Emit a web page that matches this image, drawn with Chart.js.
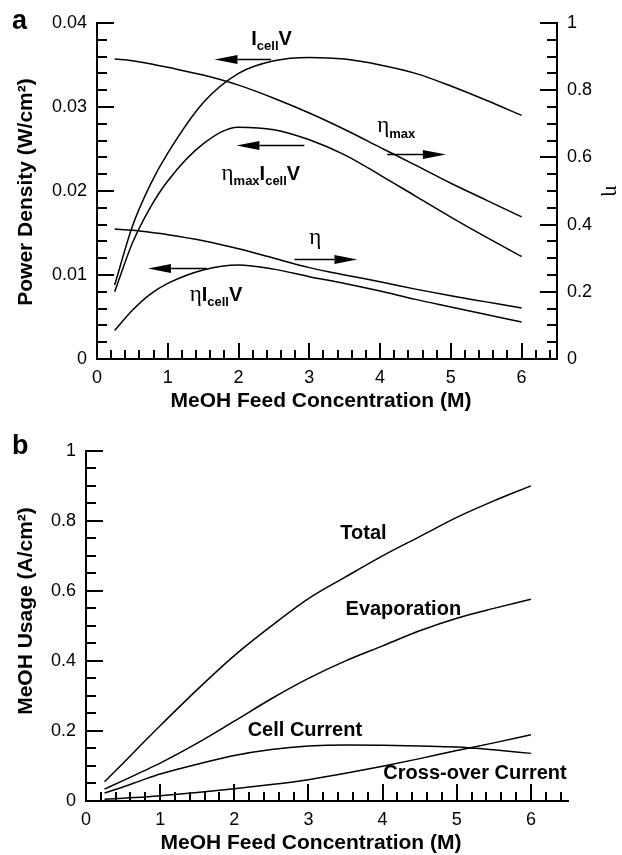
<!DOCTYPE html>
<html lang="en">
<head>
<meta charset="UTF-8">
<title>MeOH Feed Concentration</title>
<script src="https://cdn.jsdelivr.net/npm/chart.js@4.4.0/dist/chart.umd.min.js"></script>
<style>
  html, body { margin: 0; padding: 0; background: #fff; }
  #wrap { position: relative; width: 622px; height: 855px; }
  canvas { position: absolute; left: 0; }
  #chartA { top: 0; }
  #chartB { top: 430px; }
</style>
</head>
<body>
<div id="wrap">
  <canvas id="chartA" width="622" height="430"></canvas>
  <canvas id="chartB" width="622" height="425"></canvas>
</div>
<script>
// MeOH feed concentration (M)
const conc = [0.25, 0.5, 0.75, 1, 1.5, 2, 2.5, 3, 3.5, 4, 4.5, 5, 5.5, 6];

// panel a, power density (W/cm2), left axis
const cellPower   = [0.0088, 0.0158, 0.0207, 0.0245, 0.0305, 0.0340, 0.0355, 0.0359, 0.0357, 0.0350, 0.0340, 0.0325, 0.0308, 0.0290];
const etaMaxPower = [0.0080, 0.0138, 0.0180, 0.0212, 0.0256, 0.0276, 0.0273, 0.0261, 0.0243, 0.0219, 0.0194, 0.0169, 0.0145, 0.0122];
const etaPower    = [0.0034, 0.0058, 0.0077, 0.0090, 0.0106, 0.0112, 0.0107, 0.0098, 0.0090, 0.0081, 0.0071, 0.0062, 0.0053, 0.0044];
// panel a, efficiency, right axis
const etaMax = [0.893, 0.888, 0.879, 0.868, 0.845, 0.815, 0.776, 0.732, 0.683, 0.630, 0.577, 0.523, 0.473, 0.423];
const eta    = [0.387, 0.383, 0.377, 0.370, 0.352, 0.328, 0.300, 0.272, 0.250, 0.230, 0.208, 0.188, 0.170, 0.152];

// panel b, MeOH usage (A/cm2)
const usageTotal = [0.055, 0.108, 0.162, 0.215, 0.318, 0.415, 0.500, 0.578, 0.640, 0.700, 0.755, 0.810, 0.857, 0.900];
const usageEvap  = [0.034, 0.058, 0.083, 0.108, 0.165, 0.228, 0.292, 0.350, 0.400, 0.443, 0.486, 0.522, 0.550, 0.576];
const usageCell  = [0.023, 0.040, 0.059, 0.077, 0.105, 0.130, 0.147, 0.157, 0.160, 0.159, 0.157, 0.154, 0.146, 0.136];
const usageCross = [0.005, 0.008, 0.011, 0.015, 0.024, 0.035, 0.047, 0.061, 0.079, 0.099, 0.121, 0.144, 0.166, 0.189];

const SANS = '"Liberation Sans", Arial, sans-serif';
const SERIF = '"Liberation Serif", "DejaVu Serif", serif';

const pts = arr => conc.map((x, i) => ({x, y: arr[i]}));
const line = (arr, axis) => ({
  data: pts(arr), yAxisID: axis || 'y',
  borderColor: '#000', borderWidth: 1.5, pointRadius: 0, fill: false,
  cubicInterpolationMode: 'monotone'
});

// inward tick marks drawn off the chart's own scales
const tickMarks = {
  id: 'tickMarks',
  afterDraw(chart, args, opts) {
    const ctx = chart.ctx;
    ctx.save();
    ctx.strokeStyle = '#000';
    ctx.lineWidth = 2;
    (opts.axes || []).forEach(a => {
      const s = chart.scales[a.id];
      for (let i = 0; i <= a.count; i++) {
        const len = i % a.every === 0 ? a.major : a.minor;
        const p = Math.round(s.getPixelForValue(i * a.step));
        ctx.beginPath();
        if (s.isHorizontal()) { ctx.moveTo(p, s.top); ctx.lineTo(p, s.top - len); }
        else if (s.position === 'left') { ctx.moveTo(s.right, p); ctx.lineTo(s.right + len, p); }
        else { ctx.moveTo(s.left, p); ctx.lineTo(s.left - len, p); }
        ctx.stroke();
      }
    });
    ctx.restore();
  }
};

// curve labels, arrows and axis titles
const notes = {
  id: 'notes',
  afterDraw(chart, args, opts) {
    const ctx = chart.ctx, xs = chart.scales.x;
    ctx.save();
    ctx.fillStyle = '#000';
    ctx.strokeStyle = '#000';
    ctx.textBaseline = 'alphabetic';
    (opts.texts || []).forEach(t => {
      const ys = chart.scales[t.axis || 'y'];
      let px = xs.getPixelForValue(t.x);
      const py = ys.getPixelForValue(t.y);
      t.parts.forEach(p => {
        ctx.font = p.font;
        ctx.fillText(p.text, px, py + (p.dy || 0));
        px += ctx.measureText(p.text).width;
      });
    });
    (opts.arrows || []).forEach(a => {
      const ys = chart.scales[a.axis || 'y'];
      const x1 = xs.getPixelForValue(a.from), x2 = xs.getPixelForValue(a.to);
      const y = Math.round(ys.getPixelForValue(a.y)) + 0.5;
      const dir = Math.sign(x2 - x1), head = 23, half = 4.5;
      ctx.lineWidth = 1.5;
      ctx.beginPath(); ctx.moveTo(x1, y); ctx.lineTo(x2 - dir * head, y); ctx.stroke();
      ctx.beginPath();
      ctx.moveTo(x2, y);
      ctx.lineTo(x2 - dir * head, y - half);
      ctx.lineTo(x2 - dir * head, y + half);
      ctx.closePath(); ctx.fill();
    });
    const tf = 'bold 21px ' + SANS;
    if (opts.xTitle) {
      ctx.font = tf; ctx.textAlign = 'center';
      ctx.fillText(opts.xTitle.text, opts.xTitle.x, opts.xTitle.y);
    }
    if (opts.yTitle) {
      ctx.font = tf; ctx.textAlign = 'center'; ctx.textBaseline = 'middle';
      ctx.save();
      ctx.translate(opts.yTitle.x, opts.yTitle.y);
      ctx.rotate(-Math.PI / 2);
      ctx.fillText(opts.yTitle.text, 0, 0);
      ctx.restore();
      ctx.textBaseline = 'alphabetic';
    }
    if (opts.letter) {
      ctx.font = 'bold 27px ' + SANS; ctx.textAlign = 'left';
      ctx.fillText(opts.letter.text, opts.letter.x, opts.letter.y);
    }
    ctx.restore();
  }
};

const tickFont = {family: SANS, size: 18};
const fmt = v => String(Math.round(v * 1000) / 1000);
const B = 'bold 20px ' + SANS, SUB = 'bold 13px ' + SANS, ETA = '23px ' + SERIF;

function xScale(h) {
  return {
    type: 'linear', min: 0, max: 6.5,
    afterFit: s => { s.height = h; },
    grid: {display: false, drawTicks: false},
    border: {display: true, color: '#000', width: 2},
    ticks: {stepSize: 1, includeBounds: false, padding: 8, font: tickFont, color: '#000', maxRotation: 0, callback: fmt}
  };
}
function yScale(pos, w, min, max, step) {
  return {
    type: 'linear', position: pos, min, max,
    afterFit: s => { s.width = w; },
    grid: {display: false, drawTicks: false},
    border: {display: true, color: '#000', width: 2},
    ticks: {stepSize: step, includeBounds: false, padding: 10, font: tickFont, color: '#000', callback: fmt}
  };
}

const base = {
  responsive: false, animation: false, events: [],
  plugins: {legend: {display: false}, tooltip: {enabled: false}}
};

const etaAxis = yScale('right', 65, 0, 1, 0.2);
etaAxis.title = {display: true, text: 'η', font: {family: SERIF, size: 21, lineHeight: 1}, color: '#000', padding: {top: 0, bottom: 0}};

new Chart(document.getElementById('chartA'), {
  type: 'line',
  data: {datasets: [
    line(cellPower), line(etaMaxPower), line(etaPower),
    line(etaMax, 'y1'), line(eta, 'y1')
  ]},
  plugins: [tickMarks, notes],
  options: {
    ...base,
    layout: {padding: {top: 23, left: 0, right: 0, bottom: 0}},
    scales: {
      x: xScale(71),
      y: yScale('left', 97, 0, 0.04, 0.01),
      y1: etaAxis
    },
    plugins: {
      ...base.plugins,
      tickMarks: {axes: [
        {id: 'x', step: 0.2, count: 32, every: 5, major: 16, minor: 9},
        {id: 'y', step: 0.002, count: 20, every: 5, major: 17, minor: 10},
        {id: 'y1', step: 0.05, count: 20, every: 4, major: 17, minor: 10}
      ]},
      notes: {
        letter: {text: 'a', x: 12, y: 29},
        xTitle: {text: 'MeOH Feed Concentration (M)', x: 321, y: 407},
        yTitle: {text: 'Power Density (W/cm²)', x: 26, y: 192},
        texts: [
          {x: 2.18, y: 0.0374, parts: [{text: 'I', font: B}, {text: 'cell', font: SUB, dy: 5}, {text: 'V', font: B}]},
          {x: 1.76, y: 0.0213, parts: [{text: 'η', font: ETA}, {text: 'max', font: SUB, dy: 5}, {text: 'I', font: B}, {text: 'cell', font: SUB, dy: 5}, {text: 'V', font: B}]},
          {x: 3.96, y: 0.0270, parts: [{text: 'η', font: ETA}, {text: 'max', font: SUB, dy: 6}]},
          {x: 3.0, y: 0.0137, parts: [{text: 'η', font: ETA}]},
          {x: 1.31, y: 0.0069, parts: [{text: 'η', font: ETA}, {text: 'I', font: B}, {text: 'cell', font: SUB, dy: 5}, {text: 'V', font: B}]}
        ],
        arrows: [
          {from: 2.46, to: 1.66, y: 0.0357},
          {from: 2.93, to: 1.97, y: 0.02548},
          {from: 4.10, to: 4.93, y: 0.0244},
          {from: 2.79, to: 3.68, y: 0.0119},
          {from: 1.55, to: 0.72, y: 0.0108}
        ]
      }
    }
  }
});

new Chart(document.getElementById('chartB'), {
  type: 'line',
  data: {datasets: [line(usageTotal), line(usageEvap), line(usageCell), line(usageCross)]},
  plugins: [tickMarks, notes],
  options: {
    ...base,
    layout: {padding: {top: 17, left: 0, right: 54, bottom: 0}},
    scales: {
      x: xScale(54),
      y: yScale('left', 86, 0, 1, 0.2)
    },
    plugins: {
      ...base.plugins,
      tickMarks: {axes: [
        {id: 'x', step: 0.2, count: 32, every: 5, major: 17, minor: 9},
        {id: 'y', step: 0.05, count: 20, every: 4, major: 17, minor: 10}
      ]},
      notes: {
        letter: {text: 'b', x: 12, y: 24},
        xTitle: {text: 'MeOH Feed Concentration (M)', x: 311, y: 419},
        yTitle: {text: 'MeOH Usage (A/cm²)', x: 26, y: 181},
        texts: [
          {x: 3.43, y: 0.749, parts: [{text: 'Total', font: B}]},
          {x: 3.50, y: 0.531, parts: [{text: 'Evaporation', font: B}]},
          {x: 2.18, y: 0.186, parts: [{text: 'Cell Current', font: B}]},
          {x: 4.01, y: 0.062, parts: [{text: 'Cross-over Current', font: B}]}
        ]
      }
    }
  }
});
</script>
</body>
</html>
